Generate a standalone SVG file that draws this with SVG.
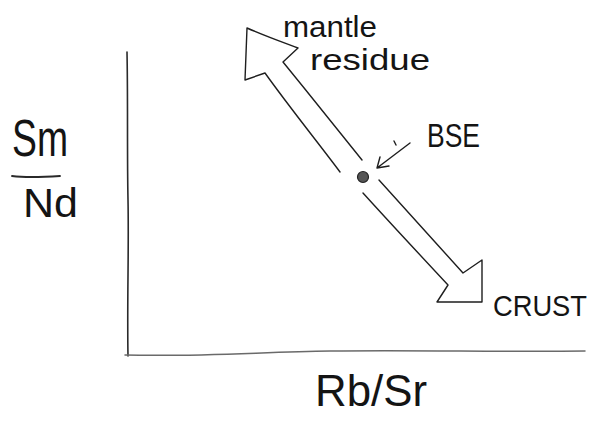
<svg xmlns="http://www.w3.org/2000/svg" width="597" height="436" viewBox="0 0 597 436">
  <style>
    .ink { fill: none; stroke: #1e1e1e; stroke-width: 1.4; stroke-linecap: round; stroke-linejoin: round; }
    .axis { fill: none; stroke: #2a2a2a; stroke-width: 1.6; stroke-linecap: round; }
    .axis-x { fill: none; stroke: #6a6a6a; stroke-width: 1.5; stroke-linecap: round; }
    .lbl { font-family: "Liberation Sans", Arial, sans-serif; fill: #141414; }
  </style>
  <rect width="597" height="436" fill="#ffffff"/>

  <g id="axes">
    <path class="axis" d="M127 52 C128 100 127 150 128 200 C129 250 127 300 128 356"/>
    <path class="axis-x" d="M125 355 C200 357 260 352 330 351 C420 350 500 352 585 351"/>
  </g>

  <g id="y-label">
    <text class="lbl" x="12" y="156" font-size="52" textLength="56" lengthAdjust="spacingAndGlyphs">Sm</text>
    <path d="M12 176 C28 178 44 177 60 176" fill="none" stroke="#2a2a2a" stroke-width="1.8" stroke-linecap="round"/>
    <text class="lbl" x="23" y="217" font-size="40" textLength="55" lengthAdjust="spacingAndGlyphs">Nd</text>
  </g>

  <g id="x-label">
    <text class="lbl" x="315" y="406" font-size="44" textLength="112" lengthAdjust="spacingAndGlyphs">Rb/Sr</text>
  </g>

  <g id="connectors">
    <g id="arrow-mantle">
      <path class="ink" d="M340 172 C320 145 290 108 265 73 L245 80 L247 28 C265 36 282 42 298 48 L283 62 C310 95 338 130 362 160"/>
    </g>
    <g id="arrow-crust">
      <path class="ink" d="M363 193 C392 225 420 255 448 285 L437 302 L482 302 L482 260 L463 273 C435 242 408 212 379 180"/>
    </g>
    <g id="arrow-bse">
      <path class="ink" d="M410 143 L377 168 M377 168 L380 157 M377 168 L389 166 M394 141 L396 145"/>
    </g>
  </g>

  <g id="node-bse-point">
    <circle cx="363" cy="177" r="5.5" fill="#555" stroke="#222" stroke-width="1.2"/>
  </g>

  <g id="label-mantle">
    <text class="lbl" x="283" y="37" font-size="30" textLength="94" lengthAdjust="spacingAndGlyphs">mantle</text>
    <text class="lbl" x="310" y="70" font-size="30" textLength="120" lengthAdjust="spacingAndGlyphs">residue</text>
  </g>

  <g id="label-bse">
    <text class="lbl" x="427" y="147" font-size="33" textLength="53" lengthAdjust="spacingAndGlyphs">BSE</text>
  </g>

  <g id="label-crust">
    <text class="lbl" x="493" y="316" font-size="29" textLength="94" lengthAdjust="spacingAndGlyphs">CRUST</text>
  </g>
</svg>
